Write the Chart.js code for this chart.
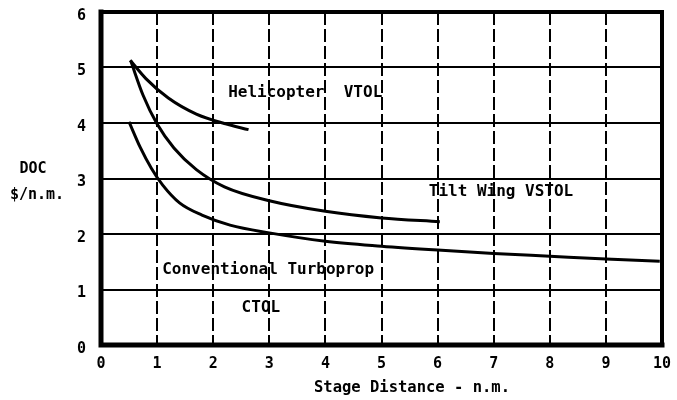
<!DOCTYPE html>
<html>
<head>
<meta charset="utf-8">
<script src="https://cdn.jsdelivr.net/npm/chart.js@4.4.1/dist/chart.umd.min.js"></script>
<style>
  html, body { margin: 0; padding: 0; background: #fff; }
  #wrap { width: 677px; height: 400px; }
</style>
</head>
<body>
<div id="wrap"><canvas id="c" width="677" height="400"></canvas></div>
<script>
// Data
const heliX = [0.52, 0.8, 1.2, 1.7, 2.2, 2.63];
const heliY = [5.13, 4.80, 4.45, 4.16, 3.99, 3.88];

const tiltX = [0.53, 0.75, 1.0, 1.3, 1.7, 2.2, 3.0, 4.0, 5.0, 6.04];
const tiltY = [5.12, 4.50, 3.98, 3.55, 3.16, 2.85, 2.60, 2.41, 2.29, 2.22];

const convX = [0.50, 0.7, 0.9, 1.1, 1.4, 1.8, 2.3, 3.0, 4.0, 5.0, 6.0, 7.0, 8.0, 9.0, 9.96];
const convY = [4.02, 3.56, 3.18, 2.88, 2.56, 2.34, 2.16, 2.02, 1.87, 1.78, 1.71, 1.65, 1.60, 1.55, 1.51];

const xTicks = [0, 1, 2, 3, 4, 5, 6, 7, 8, 9, 10];
const yTicks = [0, 1, 2, 3, 4, 5, 6];

const labelTexts = ["Helicopter  VTOL", "Tilt Wing VSTOL", "Conventional Turboprop", "CTOL"];
const labelX = [3.64, 7.13, 2.98, 2.85];
const labelY = [4.54, 2.76, 1.35, 0.67];

const yTitleLines = ["DOC", "$/n.m."];
const xTitle = "Stage Distance - n.m.";

const FONT = "'DejaVu Sans Mono', monospace";

function pts(xs, ys) { return xs.map((x, i) => ({ x: x, y: ys[i] })); }

const lineStyle = {
  borderColor: '#000',
  borderWidth: 3,
  pointRadius: 0,
  fill: false,
  showLine: true,
  cubicInterpolationMode: 'monotone'
};

const annotPlugin = {
  id: 'annot',
  afterDraw(chart) {
    const ctx = chart.ctx;
    const xs = chart.scales.x, ys = chart.scales.y;
    const a = chart.chartArea;
    ctx.save();
    // frame
    ctx.strokeStyle = '#000';
    ctx.lineCap = 'square';
    ctx.lineWidth = 5;
    ctx.beginPath();
    ctx.moveTo(a.left, a.top);
    ctx.lineTo(a.left, a.bottom);
    ctx.lineTo(a.right, a.bottom);
    ctx.stroke();
    ctx.lineWidth = 4;
    ctx.beginPath();
    ctx.moveTo(a.left, a.top);
    ctx.lineTo(a.right, a.top);
    ctx.lineTo(a.right, a.bottom);
    ctx.stroke();
    // in-plot labels
    ctx.fillStyle = '#000';
    ctx.font = "bold 16px " + FONT;
    ctx.textAlign = 'center';
    ctx.textBaseline = 'middle';
    labelTexts.forEach((t, i) => {
      ctx.fillText(t, xs.getPixelForValue(labelX[i]), ys.getPixelForValue(labelY[i]));
    });
    // y title (horizontal)
    ctx.font = "bold 15px " + FONT;
    ctx.fillText(yTitleLines[0], 33, 169);
    ctx.fillText(yTitleLines[1], 37, 195);
    // x title
    ctx.font = "bold 15.5px " + FONT;
    ctx.fillText(xTitle, 412, 388);
    ctx.restore();
  }
};

new Chart(document.getElementById('c'), {
  type: 'scatter',
  data: {
    datasets: [
      Object.assign({ label: 'Helicopter VTOL', data: pts(heliX, heliY) }, lineStyle),
      Object.assign({ label: 'Tilt Wing VSTOL', data: pts(tiltX, tiltY) }, lineStyle),
      Object.assign({ label: 'Conventional Turboprop CTOL', data: pts(convX, convY) }, lineStyle)
    ]
  },
  options: {
    responsive: false,
    animation: false,
    devicePixelRatio: 1,
    layout: { padding: { left: 0, right: 15, top: 12, bottom: 0 } },
    plugins: { legend: { display: false }, tooltip: { enabled: false } },
    scales: {
      x: {
        type: 'linear',
        min: 0, max: 10,
        afterBuildTicks(scale) { scale.ticks = xTicks.map(v => ({ value: v })); },
        afterFit(scale) { scale.height = 55; scale.paddingLeft = 0; scale.paddingRight = 0; },
        grid: { color: '#000', lineWidth: 2, drawTicks: false },
        border: { display: false, dash: [13, 4] },
        ticks: { color: '#000', padding: 10, font: { family: FONT, weight: 'bold', size: 15 }, maxRotation: 0 }
      },
      y: {
        type: 'linear',
        min: 0, max: 6,
        afterBuildTicks(scale) { scale.ticks = yTicks.map(v => ({ value: v })); },
        afterFit(scale) { scale.width = 101; scale.paddingTop = 0; scale.paddingBottom = 0; },
        grid: { color: '#000', lineWidth: 2, drawTicks: false },
        border: { display: false },
        ticks: { color: '#000', padding: 15, labelOffset: 4, font: { family: FONT, weight: 'bold', size: 15 } }
      }
    }
  },
  plugins: [annotPlugin]
});
</script>
</body>
</html>
